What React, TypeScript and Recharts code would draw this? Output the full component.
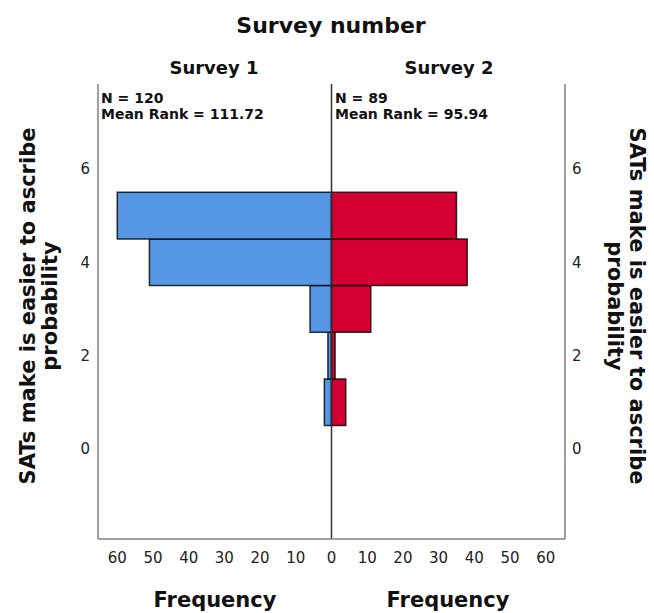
import { BarChart, Bar, XAxis, YAxis, ReferenceLine } from 'recharts'

// rating values (y) and frequency per survey
const ratingValues = [1, 2, 3, 4, 5]
const survey1Counts = [2, 1, 6, 51, 60]
const survey2Counts = [4, 1, 11, 38, 35]

const groupNames = ['Survey 1', 'Survey 2']
const groupN = [120, 89]
const groupMeanRank = ['111.72', '95.94']

const freqTicks = [-60, -50, -40, -30, -20, -10, 0, 10, 20, 30, 40, 50, 60]
const ratingTicks = [0, 2, 4, 6]

const data = ratingValues.map((v, i) => ({
  value: v,
  s1: -survey1Counts[i],
  s2: survey2Counts[i],
}))

const W = 654
const H = 613
const PLOT_TOP = 84
const PLOT_BOTTOM = 539
const Y_MIN = -1.93
const Y_MAX = 7.82
const X_MAX = 65.4
// one rating unit in px; a hair under so recharts doesn't shrink it to 90%
const barSize = (PLOT_BOTTOM - PLOT_TOP) / (Y_MAX - Y_MIN) - 0.05

const font = '"DejaVu Sans", sans-serif'
const frame = '#808080'
const tick = { fontSize: 15, fill: '#222', fontFamily: font }

export default function App() {
  return (
    <div style={{ position: 'absolute', left: 0, top: 0, width: W, height: H, background: '#fff', fontFamily: font }}>
      <BarChart
        width={W}
        height={H}
        data={data}
        layout="vertical"
        stackOffset="sign"
        barCategoryGap={0}
        margin={{ top: PLOT_TOP, right: 0, bottom: 0, left: 0 }}
      >
        <XAxis
          type="number"
          domain={[-X_MAX, X_MAX]}
          ticks={freqTicks}
          tickFormatter={(v) => String(Math.abs(v))}
          tickLine={false}
          tickSize={0}
          tickMargin={13}
          height={H - PLOT_BOTTOM}
          axisLine={{ stroke: frame, strokeWidth: 1.5 }}
          tick={tick}
        />
        <YAxis
          yAxisId="l"
          orientation="left"
          type="number"
          dataKey="value"
          domain={[Y_MIN, Y_MAX]}
          ticks={ratingTicks}
          reversed
          width={98}
          tickLine={false}
          tickSize={0}
          tickMargin={8}
          axisLine={{ stroke: frame, strokeWidth: 1.5 }}
          tick={tick}
        />
        <YAxis
          yAxisId="r"
          orientation="right"
          type="number"
          dataKey="value"
          domain={[Y_MIN, Y_MAX]}
          ticks={ratingTicks}
          reversed
          width={89}
          tickLine={false}
          tickSize={0}
          tickMargin={7}
          axisLine={{ stroke: frame, strokeWidth: 1.5 }}
          tick={tick}
        />
        <Bar
          dataKey="s1"
          yAxisId="l"
          stackId="f"
          barSize={barSize}
          fill="#5596e5"
          stroke="#000"
          strokeOpacity={0.8}
          strokeWidth={1.5}
          isAnimationActive={false}
        />
        <Bar
          dataKey="s2"
          yAxisId="l"
          stackId="f"
          barSize={barSize}
          fill="#d50032"
          stroke="#000"
          strokeOpacity={0.8}
          strokeWidth={1.5}
          isAnimationActive={false}
        />
        <ReferenceLine x={0} yAxisId="l" stroke="#333" strokeWidth={1.5} />

        <text x={331} y={33} textAnchor="middle" fontSize={22} fontWeight="bold" fontFamily={font} fill="#111">
          Survey number
        </text>
        <text x={214} y={74} textAnchor="middle" fontSize={18} fontWeight="bold" fontFamily={font} fill="#111">
          {groupNames[0]}
        </text>
        <text x={449} y={74} textAnchor="middle" fontSize={18} fontWeight="bold" fontFamily={font} fill="#111">
          {groupNames[1]}
        </text>

        <text x={101} y={103} fontSize={14} fontWeight="bold" fontFamily={font} fill="#111">
          <tspan x={101} y={103}>N = {groupN[0]}</tspan>
          <tspan x={101} y={119}>Mean Rank = {groupMeanRank[0]}</tspan>
        </text>
        <text x={335} y={103} fontSize={14} fontWeight="bold" fontFamily={font} fill="#111">
          <tspan x={335} y={103}>N = {groupN[1]}</tspan>
          <tspan x={335} y={119}>Mean Rank = {groupMeanRank[1]}</tspan>
        </text>

        <text transform="translate(35,306) rotate(-90)" textAnchor="middle" fontSize={21} fontWeight="bold" fontFamily={font} fill="#111">
          <tspan x={0} y={0}>SATs make is easier to ascribe</tspan>
          <tspan x={0} y={22}>probability</tspan>
        </text>
        <text transform="translate(630,306) rotate(90)" textAnchor="middle" fontSize={21} fontWeight="bold" fontFamily={font} fill="#111">
          <tspan x={0} y={0}>SATs make is easier to ascribe</tspan>
          <tspan x={0} y={22}>probability</tspan>
        </text>

        <text x={215} y={607} textAnchor="middle" fontSize={21} fontWeight="bold" fontFamily={font} fill="#111">
          Frequency
        </text>
        <text x={448} y={607} textAnchor="middle" fontSize={21} fontWeight="bold" fontFamily={font} fill="#111">
          Frequency
        </text>
      </BarChart>
    </div>
  )
}
